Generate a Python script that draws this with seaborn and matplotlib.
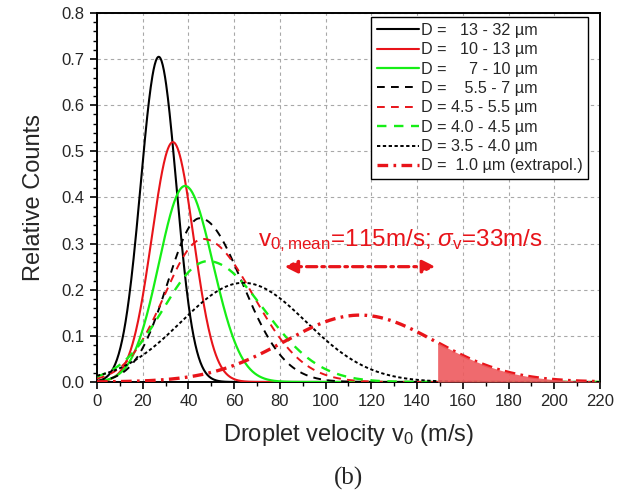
import numpy as np
import pandas as pd
import matplotlib
matplotlib.use("Agg")
import matplotlib.pyplot as plt
from matplotlib.ticker import MultipleLocator, FormatStrFormatter
import seaborn as sns

# Droplet size classes and the fitted velocity distributions (peak position, height, widths)
size_labels = [
    "D =   13 - 32 µm",
    "D =   10 - 13 µm",
    "D =     7 - 10 µm",
    "D =    5.5 - 7 µm",
    "D = 4.5 - 5.5 µm",
    "D = 4.0 - 4.5 µm",
    "D = 3.5 - 4.0 µm",
    "D =  1.0 µm (extrapol.)",
]
peak_velocity = [27.0, 33.2, 38.5, 45.0, 46.5, 48.5, 64.0, 115.0]
peak_height = [0.705, 0.52, 0.425, 0.355, 0.31, 0.262, 0.215, 0.145]
sigma_low = [7.9, 9.2, 11.4, 14.1, 17.0, 19.5, 27.2, 33.0]
sigma_high = [7.7, 9.0, 12.2, 18.5, 21.8, 24.3, 27.5, 33.0]

# Extrapolated 1 µm class: mean and standard deviation
v_mean = 115.0
v_sigma = 33.0
cutoff_velocity = 149.0

x_ticks = list(range(0, 221, 20))
y_ticks = [0.0, 0.1, 0.2, 0.3, 0.4, 0.5, 0.6, 0.7, 0.8]

RED = "#e8141a"
GREEN = "#16ee16"
styles = [
    dict(color="black", lw=1.5, dashes=None),
    dict(color=RED, lw=1.5, dashes=None),
    dict(color=GREEN, lw=1.6, dashes=None),
    dict(color="black", lw=1.4, dashes=(4.0, 3.2)),
    dict(color=RED, lw=1.4, dashes=(4.0, 3.2)),
    dict(color=GREEN, lw=1.7, dashes=(4.0, 3.2)),
    dict(color="black", lw=1.4, dashes=(1.7, 1.3)),
    dict(color=RED, lw=2.4, dashes=(3.2, 1.6, 0.8, 1.6)),
]

velocity = np.linspace(0, 220, 881)


def split_gauss(v, mu, h, s_lo, s_hi):
    s = np.where(v < mu, s_lo, s_hi)
    return h * np.exp(-0.5 * ((v - mu) / s) ** 2)


frames = []
for lab, mu, h, sl, sh in zip(size_labels, peak_velocity, peak_height, sigma_low, sigma_high):
    frames.append(pd.DataFrame({"v": velocity, "counts": split_gauss(velocity, mu, h, sl, sh), "size": lab}))
data = pd.concat(frames, ignore_index=True)

sns.set_theme(style="ticks")
plt.rcParams["font.family"] = ["Liberation Sans", "DejaVu Sans"]
plt.rcParams["mathtext.fontset"] = "custom"
plt.rcParams["mathtext.rm"] = "Liberation Sans"
plt.rcParams["mathtext.it"] = "Liberation Sans:italic"
plt.rcParams["mathtext.sf"] = "Liberation Sans"

fig = plt.figure(figsize=(6.23, 4.99), dpi=100)
ax = fig.add_axes([0.1557, 0.2345, 0.8073, 0.7395])

for lab, st in zip(size_labels, styles):
    sub = data[data["size"] == lab]
    sns.lineplot(data=sub, x="v", y="counts", ax=ax, color=st["color"], lw=st["lw"],
                 label=lab, zorder=3)
    line = ax.lines[-1]
    if st["dashes"] is not None:
        line.set_dashes(st["dashes"])
        line.set_dash_capstyle("butt")

# Shaded tail of the 1 µm distribution above the cutoff velocity
tail = data[(data["size"] == size_labels[-1]) & (data["v"] >= cutoff_velocity)]
ax.fill_between(tail["v"], 0, tail["counts"], color="#ee5a5e", alpha=0.9, lw=0, zorder=4)

# Mean +/- sigma arrow and annotation
ax.annotate("", xy=(v_mean - v_sigma, 0.25), xytext=(v_mean + v_sigma, 0.25),
            arrowprops=dict(arrowstyle="<|-|>", color=RED, lw=2.3, linestyle=(0, (3.2, 1.6, 0.8, 1.6)),
                            mutation_scale=19, shrinkA=0, shrinkB=0), zorder=5)
ax.text(132.5, 0.294, r"v$_\mathregular{0,mean}$=115m/s; $\sigma_\mathregular{v}$=33m/s",
        color=RED, fontsize=17.5, ha="center", va="baseline", zorder=5)

ax.set_xlim(0, 220)
ax.set_ylim(0, 0.8)
ax.set_xticks(x_ticks)
ax.set_yticks(y_ticks)
ax.yaxis.set_major_formatter(FormatStrFormatter("%.1f"))
ax.xaxis.set_minor_locator(MultipleLocator(10))
ax.yaxis.set_minor_locator(MultipleLocator(0.02))
ax.tick_params(which="major", direction="out", length=5, width=1.2, labelsize=12, color="black", pad=4)
ax.tick_params(which="minor", direction="out", length=3, width=1.0, color="black")
ax.tick_params(axis="both", which="both", top=False, right=False)
for sp in ax.spines.values():
    sp.set_visible(True)
    sp.set_color("black")
    sp.set_linewidth(1.4)

ax.grid(True, which="major", color="#a8a8a8", lw=0.8, linestyle=(0, (3, 3)))
ax.set_axisbelow(True)

ax.set_xlabel(r"Droplet velocity v$_\mathregular{0}$ (m/s)", fontsize=17, labelpad=9)
ax.set_ylabel("Relative Counts", fontsize=17, labelpad=12)

leg = ax.legend(loc="upper right", bbox_to_anchor=(0.977, 0.988), fontsize=11.6, frameon=True,
                fancybox=False, framealpha=1, edgecolor="black", handlelength=2.6,
                handletextpad=0.15, labelspacing=0.27, borderpad=0.35, borderaxespad=0.0)
leg.get_frame().set_linewidth(1.0)

fig.text(0.559, 0.042, "(b)", fontsize=18, ha="center", va="center", family="Liberation Serif")

fig.savefig("out.png", dpi=100)
